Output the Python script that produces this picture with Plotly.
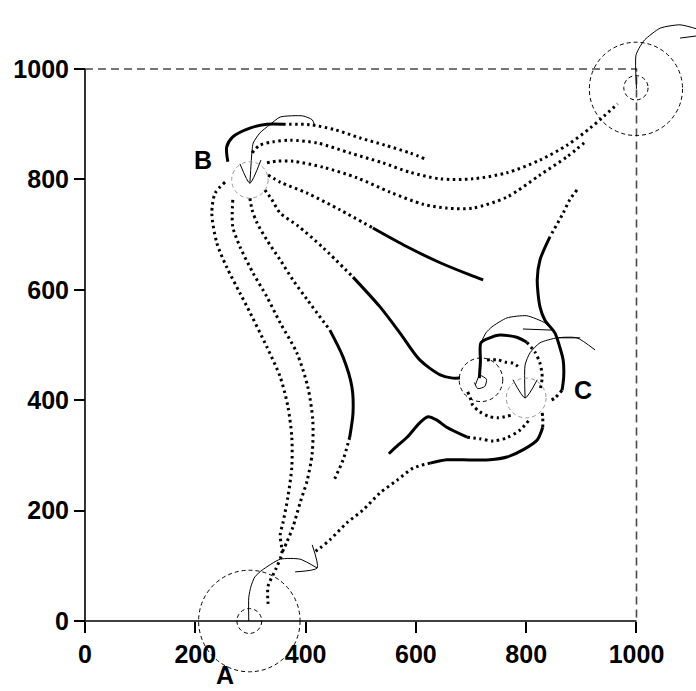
import plotly.graph_objects as go

# ---------------- data ----------------
x_ticks = [0, 200, 400, 600, 800, 1000]
y_ticks = [0, 200, 400, 600, 800, 1000]

# trajectories (data coordinates)
c1_x = [259, 257, 268, 299, 330, 359, 408, 453, 499, 544, 589, 617]
c1_y = [832, 859, 877, 893, 900, 900, 899, 890, 875, 862, 848, 837]

c2_x = [303, 317, 341, 372, 421, 480, 540, 589, 644, 703, 765, 825, 874, 916, 937, 966]
c2_y = [848, 862, 868, 871, 866, 848, 830, 813, 801, 801, 812, 835, 862, 893, 911, 937]

c3_x = [330, 348, 377, 432, 493, 553, 613, 656, 703, 765, 825, 874, 905]
c3_y = [830, 833, 833, 822, 803, 777, 755, 748, 748, 768, 808, 841, 866]

c4_x = [332, 354, 403, 462, 522, 584, 644, 698, 722]
c4_y = [808, 795, 775, 745, 712, 678, 649, 627, 618]

c5_x = [326, 339, 354, 386, 432, 486, 535, 571, 607, 644, 667, 680]
c5_y = [781, 763, 739, 716, 676, 623, 569, 522, 473, 446, 440, 440]

c6_x = [254, 236, 230, 239, 257, 281, 294, 330, 354, 368, 375, 375, 368, 359, 354, 357, 346, 332, 332]
c6_y = [795, 775, 739, 685, 641, 594, 569, 496, 442, 388, 333, 279, 225, 178, 156, 123, 94, 63, 31]

c7_x = [268, 267, 268, 281, 305, 330, 354, 384, 404, 413, 412, 403, 390, 377, 366, 357]
c7_y = [763, 739, 714, 678, 630, 587, 540, 486, 424, 364, 304, 255, 214, 170, 143, 123]

c8_x = [299, 303, 312, 330, 354, 377, 403, 444, 468, 484, 486, 480, 468, 450]
c8_y = [766, 745, 721, 690, 654, 618, 582, 527, 478, 424, 377, 333, 292, 252]

c9_x = [829, 830, 830, 820, 794, 765, 734, 685, 656, 626, 595, 566, 535, 504, 475, 444, 426, 413]
c9_y = [377, 368, 351, 328, 310, 297, 292, 292, 292, 286, 277, 255, 232, 201, 178, 147, 132, 123]

c10_x = [892, 879, 867, 843, 825, 820, 825, 834, 852, 861, 867, 868, 865, 852, 845]
c10_y = [781, 763, 739, 696, 654, 618, 569, 545, 522, 496, 473, 442, 418, 404, 400]

c11_x = [715, 717, 718, 734, 752, 783, 801, 816, 825, 829, 825]
c11_y = [440, 470, 504, 513, 518, 514, 505, 487, 467, 442, 418]

c12_x = [551, 568, 584, 607, 622, 638, 656, 693, 716, 740, 765, 789, 807]
c12_y = [303, 319, 333, 359, 370, 364, 351, 333, 330, 326, 332, 346, 366]

c13_x = [694, 700, 703, 716, 731, 749, 774]
c13_y = [415, 400, 391, 379, 371, 368, 373]

c14_x = [729, 749, 762, 776, 789]
c14_y = [473, 473, 469, 467, 458]

# thin rotation arrows
arcA_x = [297, 297, 301, 308, 321, 354, 390, 421]
arcA_y = [0, 43, 63, 80, 92, 112, 112, 96]
headA_x = [412, 421, 381]
headA_y = [138, 96, 89]

arcT_x = [1000, 999, 1006, 1015, 1043, 1079, 1115]
arcT_y = [964, 1025, 1040, 1053, 1074, 1080, 1071]
headT_x = [1079, 1110]
headT_y = [1056, 1060]

arcB_x = [299, 303, 305, 317, 335, 354, 395, 412, 417]
arcB_y = [793, 853, 866, 884, 899, 913, 915, 908, 897]
headB_x = [281, 299, 319]
headB_y = [828, 793, 835]

arcC1_x = [718, 727, 738, 765, 801, 834, 847]
arcC1_y = [504, 522, 533, 549, 553, 540, 527]
headC1_x = [794, 847]
headC1_y = [529, 527]

arcC2_x = [798, 798, 807, 825, 856, 892, 925]
arcC2_y = [404, 464, 486, 504, 513, 513, 491]
headC2_x = [776, 798, 820]
headC2_y = [437, 404, 437]
barC2_x = [856, 898]
barC2_y = [513, 513]

# small spiral inside circle C1
spirC1_x = [708, 716, 728, 725, 712, 706]
spirC1_y = [428, 445, 438, 425, 421, 432]

# dashed circles: centre x, centre y, radius
circ_x = [298, 298, 999, 999, 718, 800, 299]
circ_y = [0, 0, 964, 966, 437, 404, 799]
circ_r = [92, 22.5, 84.5, 22, 39.5, 36, 33]
circ_grey = [False, False, False, False, False, True, True]

labels = ["A", "B", "C"]
label_x = [254, 214, 903]
label_y = [-98, 835, 418]

# ---------------- styling / segments ----------------
curves = [
    (c1_x, c1_y, [(0, 5, "solid"), (5, 11, "dot")]),
    (c2_x, c2_y, [(0, 15, "dot")]),
    (c3_x, c3_y, [(0, 12, "dot")]),
    (c4_x, c4_y, [(0, 4, "dot"), (4, 8, "solid")]),
    (c5_x, c5_y, [(0, 5, "dot"), (5, 11, "solid")]),
    (c6_x, c6_y, [(0, 18, "dot")]),
    (c7_x, c7_y, [(0, 15, "dot")]),
    (c8_x, c8_y, [(0, 7, "dot"), (7, 11, "solid"), (11, 13, "dot")]),
    (c9_x, c9_y, [(0, 2, "dot"), (2, 9, "solid"), (9, 17, "dot")]),
    (c10_x, c10_y, [(0, 3, "dot"), (3, 12, "solid"), (12, 14, "dot")]),
    (c11_x, c11_y, [(0, 6, "solid"), (6, 10, "dot")]),
    (c12_x, c12_y, [(0, 7, "solid"), (7, 12, "dot")]),
    (c13_x, c13_y, [(0, 6, "dot")]),
    (c14_x, c14_y, [(0, 4, "dot")]),
]
thin = [
    (arcA_x, arcA_y), (headA_x, headA_y),
    (arcT_x, arcT_y), (headT_x, headT_y),
    (arcB_x, arcB_y), (headB_x, headB_y),
    (arcC1_x, arcC1_y), (headC1_x, headC1_y),
    (arcC2_x, arcC2_y), (headC2_x, headC2_y), (barC2_x, barC2_y),
    (spirC1_x, spirC1_y),
]

XR = [-154.1, 1107.9]
YR = [-126.8, 1125.0]

fig = go.Figure()

# dashed frame (top and right)
fig.add_trace(go.Scatter(x=[x_ticks[0], x_ticks[-1], x_ticks[-1]],
                         y=[y_ticks[-1], y_ticks[-1], y_ticks[0]],
                         mode="lines", line=dict(color="#4a4a4a", width=1.6, dash="8px,5px"),
                         hoverinfo="skip"))
# solid axes lines
fig.add_trace(go.Scatter(x=[x_ticks[0], x_ticks[-1]], y=[y_ticks[0], y_ticks[0]], mode="lines",
                         line=dict(color="black", width=1.6), hoverinfo="skip"))
fig.add_trace(go.Scatter(x=[x_ticks[0], x_ticks[0]], y=[y_ticks[0], y_ticks[-1]], mode="lines",
                         line=dict(color="black", width=1.6), hoverinfo="skip"))

for cx, cy, r, g in zip(circ_x, circ_y, circ_r, circ_grey):
    fig.add_shape(type="circle", xref="x", yref="y",
                  x0=cx - r, x1=cx + r, y0=cy - r, y1=cy + r,
                  line=dict(color="#9a9a9a" if g else "black", width=1, dash="4px,3px"))

for xs, ys, segs in curves:
    for a, b, st in segs:
        if st == "solid":
            line = dict(color="black", width=3, shape="spline", smoothing=0.8)
        else:
            line = dict(color="black", width=3, shape="spline", smoothing=0.8, dash="2.5px,3.5px")
        fig.add_trace(go.Scatter(x=xs[a:b + 1], y=ys[a:b + 1], mode="lines", line=line,
                                 hoverinfo="skip"))

for xs, ys in thin:
    fig.add_trace(go.Scatter(x=xs, y=ys, mode="lines",
                             line=dict(color="black", width=1, shape="spline", smoothing=0.6),
                             hoverinfo="skip"))

for t, lx, ly in zip(labels, label_x, label_y):
    fig.add_annotation(x=lx, y=ly, xref="x", yref="y", text=t, showarrow=False,
                       font=dict(family="Liberation Sans, Arial", size=25, color="black", weight="bold"))

tickfont = dict(family="Liberation Sans, Arial", size=25, color="black", weight="bold")
fig.update_layout(
    width=696, height=691, margin=dict(l=0, r=0, t=0, b=0),
    paper_bgcolor="white", plot_bgcolor="white", showlegend=False,
    xaxis=dict(range=XR, domain=[0, 1], anchor="free",
               position=(0 - YR[0]) / (YR[1] - YR[0]),
               tickvals=x_ticks, ticks="outside", ticklen=11, tickwidth=1.6, tickcolor="black",
               showgrid=False, zeroline=False, showline=False, tickfont=tickfont, automargin=False),
    yaxis=dict(range=YR, domain=[0, 1], anchor="free",
               position=(0 - XR[0]) / (XR[1] - XR[0]),
               tickvals=y_ticks, ticks="outside", ticklen=11, tickwidth=1.6, tickcolor="black",
               showgrid=False, zeroline=False, showline=False, tickfont=tickfont, automargin=False),
)

fig.write_html("out.html")
